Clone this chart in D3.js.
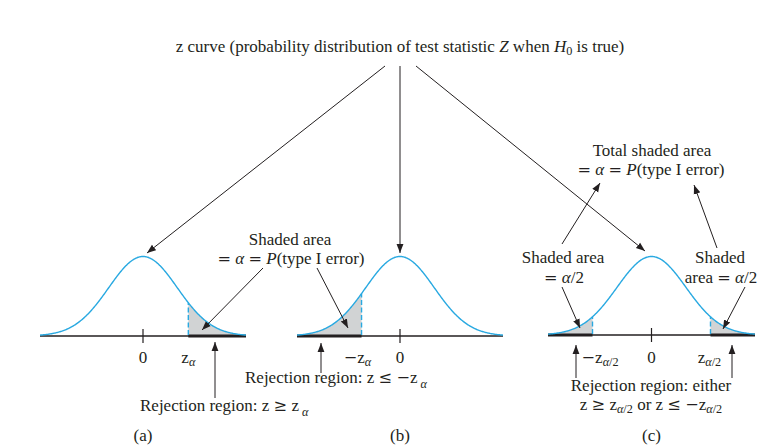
<!DOCTYPE html>
<html>
<head>
<meta charset="utf-8">
<script src="https://cdn.jsdelivr.net/npm/d3@7"></script>
<style>
  html, body { margin: 0; padding: 0; background: #fff; }
  svg { display: block; }
  text { font-family: "Liberation Serif", "DejaVu Serif", serif; fill: #231f20; }
</style>
</head>
<body>
<script>
// ---------------- data ----------------
const panelLabels = ["(a)", "(b)", "(c)"];
const zDomain = [-3, 3];
// critical values (in z units)
const critA = 1.32;          // upper-tailed
const critB = -1.12;         // lower-tailed
const critC = 1.71;          // two-tailed (±)
// rejection regions per panel, as [from, to] in z units
const rejectA = [[critA, 3]];
const rejectB = [[-3, critB]];
const rejectC = [[-3, -critC], [critC, 3]];
// tick label lists per panel: [z position, label segments]
const tickLabelsA = [[0, [["0"]]], [critA, [["z"], ["α", "sub i"]]]];
const tickLabelsB = [[critB - 0.12, [["−z"], ["α", "sub i"]]], [0, [["0"]]]];
const tickLabelsC = [[-critC + 0.22, [["−z"], ["α", "sub i"], ["/2", "sub"]]], [0, [["0"]]], [critC - 0.03, [["z"], ["α", "sub i"], ["/2", "sub"]]]];
const zGrid = d3.range(-3, 3.0001, 0.02);

// ---------------- layout ----------------
const W = 769, H = 446, FS = 17;
const svg = d3.select("body").append("svg").attr("width", W).attr("height", H);
const ink = "#231f20", blue = "#29a9e1", shade = "#d1d3d4";

svg.append("defs").append("marker")
  .attr("id", "ah").attr("viewBox", "0 0 10 10").attr("refX", 10).attr("refY", 5)
  .attr("markerWidth", 9).attr("markerHeight", 9).attr("markerUnits", "userSpaceOnUse")
  .attr("orient", "auto")
  .append("path").attr("d", "M0,1.2 L10,5 L0,8.8 Z").attr("fill", ink);

const pdf = z => Math.exp(-z * z / 2) / Math.sqrt(2 * Math.PI);

const panels = [
  { label: panelLabels[0], x0: 40, x1: 246, axisY: 336, reject: rejectA, cuts: [critA], ticks: tickLabelsA },
  { label: panelLabels[1], x0: 297, x1: 503, axisY: 336, reject: rejectB, cuts: [critB], ticks: tickLabelsB },
  { label: panelLabels[2], x0: 548, x1: 755, axisY: 335, reject: rejectC, cuts: [-critC, critC], ticks: tickLabelsC }
];

// rich text helper: math symbols drawn in a wider face
const SYM = /([=≥≤−])/;
function rich(x, y, segs, opts = {}) {
  const size = opts.size || FS;
  const t = svg.append("text").attr("x", x).attr("y", y)
    .attr("font-size", size).attr("text-anchor", opts.anchor || "middle");
  let shift = 0;
  segs.forEach(s => {
    const [str, st] = s;
    const isSub = !!(st && st.includes("sub"));
    const isIt = !!(st && /\bi\b/.test(st));
    const fsz = isSub ? size * 0.72 : size;
    let dy = 0;
    const d = opts.subDy || 4;
    if (isSub) { dy = d - shift; shift = d; }
    else if (shift) { dy = -shift; shift = 0; }
    const parts = str.split(SYM).filter(q => q.length);
    parts.forEach((q, i) => {
      const ts = t.append("tspan").text(q).attr("font-size", fsz);
      if (i === 0 && dy) ts.attr("dy", dy);
      if (SYM.test(q)) ts.attr("font-family", "DejaVu Serif").attr("font-size", fsz * 0.95);
      else if (isIt) ts.attr("font-style", "italic");
    });
  });
  return t;
}

panels.forEach(p => {
  const x = d3.scaleLinear().domain(zDomain).range([p.x0, p.x1]);
  const y = d3.scaleLinear().domain([0, pdf(0)]).range([p.axisY, 256.5]);
  const g = svg.append("g");

  // shaded areas
  const area = d3.area().x(d => x(d)).y0(p.axisY).y1(d => y(pdf(d)));
  p.reject.forEach(([a, b]) => {
    const pts = zGrid.filter(z => z >= a && z <= b);
    if (pts[0] > a) pts.unshift(a);
    if (pts[pts.length - 1] < b) pts.push(b);
    g.append("path").attr("d", area(pts)).attr("fill", shade);
  });

  // axis
  g.append("line").attr("x1", x(-3)).attr("x2", x(3)).attr("y1", p.axisY).attr("y2", p.axisY)
    .attr("stroke", ink).attr("stroke-width", 1.3);
  p.reject.forEach(([a, b]) => {
    g.append("line").attr("x1", x(a)).attr("x2", x(b)).attr("y1", p.axisY).attr("y2", p.axisY)
      .attr("stroke", ink).attr("stroke-width", 3.2);
  });
  // tick at 0
  g.append("line").attr("x1", x(0)).attr("x2", x(0)).attr("y1", p.axisY - 7).attr("y2", p.axisY + 7)
    .attr("stroke", ink).attr("stroke-width", 1.2);

  // dashed cut lines
  p.cuts.forEach(c => {
    g.append("line").attr("x1", x(c)).attr("x2", x(c)).attr("y1", p.axisY - 1).attr("y2", y(pdf(c)))
      .attr("stroke", blue).attr("stroke-width", 1.4).attr("stroke-dasharray", "5,2.5");
  });

  // curve
  g.append("path").attr("d", d3.line().x(d => x(d)).y(d => y(pdf(d)))(zGrid))
    .attr("fill", "none").attr("stroke", blue).attr("stroke-width", 1.4);

  // tick labels
  p.ticks.forEach(([z, segs]) => rich(x(z), 363, segs, { subDy: 3 }));

  // panel label
  rich(x(0), 441, [[p.label]]);
});

// ---------------- annotations ----------------
function arrow(x1, y1, x2, y2) {
  svg.append("line").attr("x1", x1).attr("y1", y1).attr("x2", x2).attr("y2", y2)
    .attr("stroke", ink).attr("stroke-width", 1).attr("marker-end", "url(#ah)");
}

rich(400, 52, [["z curve (probability distribution of test statistic "], ["Z", "i"], [" when "], ["H", "i"], ["0", "sub"], [" is true)"]], { subDy: 3 });
arrow(385, 66, 147, 253);
arrow(400, 66, 400, 253);
arrow(416, 66, 645, 251);

// (a)
rich(290, 245, [["Shaded area"]]);
rich(291, 264, [["= "], ["α", "i"], [" = "], ["P", "i"], ["(type I error)"]]);
arrow(263, 268, 202, 330);
arrow(215, 398, 215, 342);
rich(140, 411, [["Rejection region: z ≥ z"], [" α", "sub i"]], { anchor: "start", subDy: 5 });

// (b)
arrow(317, 268, 348, 328);
arrow(321, 373, 321, 343);
rich(245, 383, [["Rejection region: z ≤ −z"], [" α", "sub i"]], { anchor: "start", subDy: 5 });

// (c)
rich(652, 156, [["Total shaded area"]]);
rich(651, 175, [["= "], ["α", "i"], [" = "], ["P", "i"], ["(type I error)"]]);
rich(563, 263, [["Shaded area"]]);
rich(564, 283, [["= "], ["α", "i"], ["/2"]]);
rich(720, 263, [["Shaded"]]);
rich(721, 283, [["area = "], ["α", "i"], ["/2"]]);
arrow(562, 244, 600, 183);
arrow(562, 287, 580, 328);
arrow(717, 248, 694, 185);
arrow(745, 287, 723, 329);
arrow(576, 378, 576, 345);
arrow(732, 378, 732, 345);
rich(651, 391, [["Rejection region: either"]]);
rich(651, 410, [["z ≥ z"], ["α", "sub i"], ["/2", "sub"], [" or z ≤ −z"], ["α", "sub i"], ["/2", "sub"]], { subDy: 3 });
</script>
</body>
</html>
